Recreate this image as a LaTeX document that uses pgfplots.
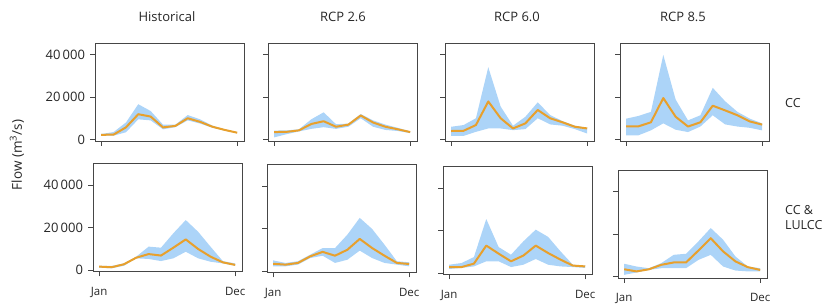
\documentclass[border=0pt]{standalone}
\usepackage{fontspec}
\setmainfont{Open Sans}
\usepackage{pgfplots}
\usepackage{pgfplotstable}
\pgfplotsset{compat=1.18}
\usepgfplotslibrary{fillbetween}
\definecolor{bandblue}{RGB}{172,212,248}
\definecolor{lineor}{RGB}{232,160,44}
\definecolor{axgray}{RGB}{70,70,70}

\pgfplotstableread{
m lo mid hi
1 1800 2200 2600
2 1800 2300 3500
3 3400 5700 8000
4 9500 11900 16600
5 9000 10800 13400
6 4800 5700 7000
7 5800 6400 7000
8 9000 10000 11500
9 7500 8300 9500
10 5500 6000 6500
11 4200 4500 4800
12 3000 3200 3400
}\tHa
\pgfplotstableread{
m lo mid hi
1 1000 3500 4200
2 2500 3600 4300
3 3800 4300 4800
4 5000 7300 9500
5 5800 8600 12800
6 5000 6000 7200
7 6000 7000 7500
8 10000 11300 12000
9 6000 8000 9000
10 4500 6000 7000
11 4000 4800 5500
12 3000 3500 3800
}\tTa
\pgfplotstableread{
m lo mid hi
1 1700 4000 6000
2 1700 4100 6800
3 3600 6800 10000
4 5200 17900 34000
5 5200 10000 15500
6 4400 5200 6500
7 4900 7600 10700
8 10000 13900 17500
9 7100 10000 11500
10 6500 8100 8700
11 4900 6000 6500
12 2800 5200 5500
}\tSa
\pgfplotstableread{
m lo mid hi
1 2000 6200 9800
2 2000 6200 11100
3 4300 8100 13000
4 7600 19500 39800
5 4600 10700 18800
6 3500 6100 9000
7 6100 8100 11400
8 11400 15900 24300
9 7100 13700 18000
10 6100 11400 13000
11 5500 8500 9800
12 4300 7000 7600
}\tEa
\pgfplotstableread{
m lo mid hi
1 1100 1600 2000
2 800 1300 1900
3 2000 2700 3100
4 5500 5800 6300
5 5200 7500 11000
6 4200 6800 10500
7 5500 10500 17300
8 8600 14400 23500
9 5500 9900 18000
10 3900 6300 11000
11 3100 3600 4200
12 2000 2400 3100
}\tHb
\pgfplotstableread{
m lo mid hi
1 2200 3400 5000
2 2200 3000 3800
3 3000 3800 4600
4 6100 6900 7700
5 7200 9000 10800
6 3800 7200 10800
7 5300 10000 17100
8 9600 15100 25000
9 6100 10800 19800
10 3800 7200 12400
11 3000 3800 4600
12 2200 3300 4100
}\tTb
\pgfplotstableread{
m lo mid hi
1 1900 2800 3900
2 2400 2800 4700
3 3100 4400 7500
4 5500 12900 25400
5 5500 9100 12200
6 2800 5500 8600
7 3900 8200 14900
8 6600 12900 20400
9 3900 9400 17000
10 3100 6300 10200
11 2800 3500 3900
12 2400 3100 3500
}\tSb
\pgfplotstableread{
m lo mid hi
1 800 3400 6000
2 1900 2400 4700
3 3100 3400 3900
4 3900 5500 6300
5 3900 6600 10200
6 3900 6600 10700
7 7800 12200 16500
8 10200 18000 22800
9 4700 11800 17300
10 2800 7100 9400
11 2400 4400 4700
12 2400 3100 3900
}\tEb

\pgfplotsset{
  panel/.style={
    scale only axis, width=149pt, anchor=south west,
    xmin=0.5, xmax=12.55, ymin=-700,
    xtick={1,12}, xticklabels={},
    ytick={0,20000,40000}, yticklabels={},
    scaled y ticks=false,
    tick align=outside, xtick pos=bottom, ytick pos=left,
    major tick length=5pt,
    axis line style={axgray, line width=0.8pt},
    major tick style={axgray, line width=0.8pt},
    /pgf/number format/assume math mode=true,
    yticklabel style={font=\fontsize{13}{15}\selectfont, xshift=-1.5pt, text=black!85},
    xticklabel style={font=\fontsize{11.5}{13}\selectfont, yshift=-7pt, text=black!85},
  },
  ylab/.style={yticklabels={0,20\,000,40\,000}},
  xlab/.style={xticklabels={Jan,Dec}},
}

\newcommand{\panel}[6]{%
\begin{axis}[panel, at={(#1pt,#2pt)}, height=#3, ymax=#4, #6]
\addplot[name path=hi, draw=none, forget plot] table[x=m,y=hi]{#5};
\addplot[name path=lo, draw=none, forget plot] table[x=m,y=lo]{#5};
\addplot[fill=bandblue, draw=none] fill between[of=hi and lo];
\addplot[lineor, line width=2pt, line join=round] table[x=m,y=mid]{#5};
\end{axis}}

\begin{document}
\begin{tikzpicture}
% top row
\panel{95}{165}{98pt}{45400}{\tHa}{ylab}
\panel{268}{165}{98pt}{45400}{\tTa}{}
\panel{445}{165}{98pt}{45400}{\tSa}{}
\panel{620}{165}{98pt}{45400}{\tEa}{}
% bottom row
\panel{93}{34.5}{108pt}{50100}{\tHb}{ylab,xlab}
\panel{267}{33.5}{108pt}{50100}{\tTb}{xlab}
\panel{443}{31.5}{108pt}{50100}{\tSb}{xlab}
\panel{618}{28}{108pt}{50100}{\tEb}{xlab}
% titles
\begin{scope}[every node/.style={font=\fontsize{13}{15}\selectfont, anchor=base, text=black!85}]
\node at (167pt,284pt) {Historical};
\node at (343pt,284pt) {RCP 2.6};
\node at (517pt,284pt) {RCP 6.0};
\node at (683pt,284pt) {RCP 8.5};
\end{scope}
\begin{scope}[every node/.style={font=\fontsize{12.5}{15}\selectfont, anchor=base west, text=black!85, inner sep=0pt}]
\node at (785pt,198pt) {CC};
\node at (785pt,91pt) {CC \&};
\node at (785pt,76pt) {LULCC};
\end{scope}
\node[rotate=90, font=\fontsize{13.5}{16}\selectfont, text=black!85] at (17pt,151pt) {Flow (m\textsuperscript{3}/s)};
\path (0pt,0pt) rectangle (830pt,306pt);
\end{tikzpicture}
\end{document}
